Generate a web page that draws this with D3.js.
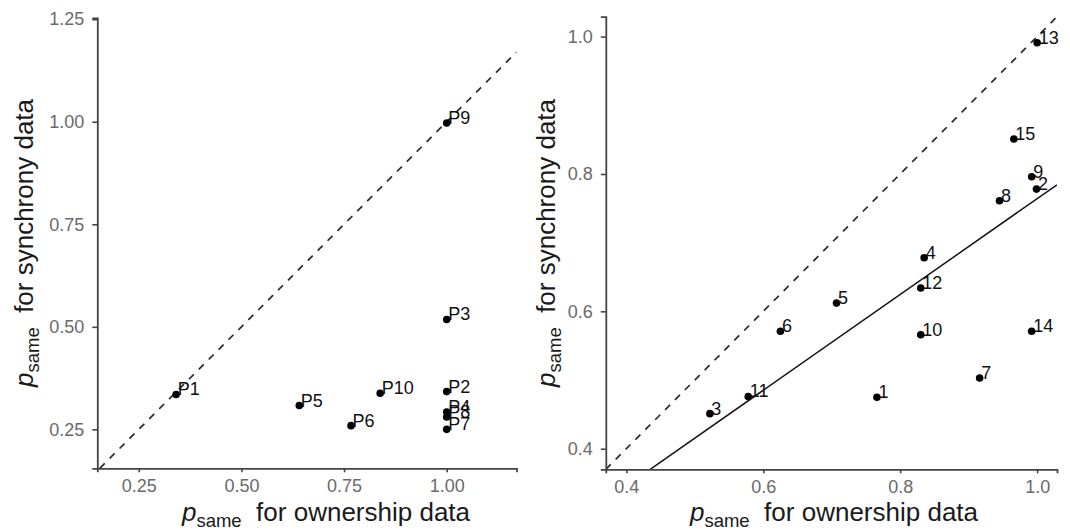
<!DOCTYPE html>
<html>
<head>
<meta charset="utf-8">
<script src="https://cdn.jsdelivr.net/npm/d3@7"></script>
<style>
  body { margin: 0; background: #fff; }
  svg { display: block; font-family: "Liberation Sans", Arial, sans-serif; }
</style>
</head>
<body>
<div id="graph-holder"></div>
<script>
// left panel: participants P1..P10
var leftLabels = ["P1", "P2", "P3", "P4", "P5", "P6", "P7", "P8", "P9", "P10"];
var leftOwnership = [0.341, 1.0, 1.0, 1.0, 0.641, 0.767, 1.0, 1.0, 1.0, 0.838];
var leftSynchrony = [0.335, 0.342, 0.518, 0.292, 0.308, 0.259, 0.25, 0.28, 0.997, 0.338];

// right panel: 15 items
var rightLabels = ["1", "2", "3", "4", "5", "6", "7", "8", "9", "10", "11", "12", "13", "14", "15"];
var rightOwnership = [0.766, 0.999, 0.522, 0.835, 0.707, 0.625, 0.916, 0.945, 0.992, 0.830, 0.578, 0.830, 1.0, 0.992, 0.966];
var rightSynchrony = [0.475, 0.778, 0.451, 0.678, 0.612, 0.571, 0.503, 0.761, 0.796, 0.566, 0.476, 0.634, 0.991, 0.571, 0.851];

// fitted line in right panel
var fitIntercept = 0.0666;
var fitSlope = 0.6975;

// tick values
var leftXTicks = [0.25, 0.5, 0.75, 1.0];
var leftYTicks = [0.25, 0.5, 0.75, 1.0, 1.25];
var rightTicks = [0.4, 0.6, 0.8, 1.0];

var width = 1070, height = 531;

var svg = d3
  .select("#graph-holder")
  .append("svg")
  .attr("width", width)
  .attr("height", height);

function toRows(labels, xs, ys) {
  return labels.map(function(l, i) {
    return { label: l, x: xs[i], y: ys[i] };
  });
}

function drawPanel(opt) {
  var x = d3.scaleLinear().domain(opt.xDomain).range(opt.xRange);
  var y = d3.scaleLinear().domain(opt.yDomain).range(opt.yRange);
  var g = svg.append("g");

  // clip lines to the panel
  g.append("clipPath")
    .attr("id", opt.id + "-clip")
    .append("rect")
    .attr("x", opt.xRange[0])
    .attr("y", opt.yRange[1])
    .attr("width", opt.xRange[1] - opt.xRange[0])
    .attr("height", opt.yRange[0] - opt.yRange[1]);

  var lines = g.append("g").attr("clip-path", "url(#" + opt.id + "-clip)");

  // identity line y = x
  var lo = Math.max(opt.xDomain[0], opt.yDomain[0]);
  var hi = Math.min(opt.xDomain[1], opt.yDomain[1]);
  lines
    .append("line")
    .attr("x1", x(lo))
    .attr("y1", y(lo))
    .attr("x2", x(hi))
    .attr("y2", y(hi))
    .attr("stroke", "#2a2a2a")
    .attr("stroke-width", 1.7)
    .attr("stroke-dasharray", "7,7");

  if (opt.fit) {
    var x0 = opt.xDomain[0], x1 = opt.xDomain[1];
    lines
      .append("line")
      .attr("x1", x(x0))
      .attr("y1", y(opt.fit[0] + opt.fit[1] * x0))
      .attr("x2", x(x1))
      .attr("y2", y(opt.fit[0] + opt.fit[1] * x1))
      .attr("stroke", "#111")
      .attr("stroke-width", 1.5);
  }

  // axes
  var xAxis = g
    .append("g")
    .attr("transform", "translate(0," + opt.yRange[0] + ")")
    .call(
      d3.axisBottom(x)
        .tickValues(opt.xTicks)
        .tickFormat(d3.format(opt.fmt))
        .tickSizeOuter(0)
        .tickSize(4)
        .tickPadding(7)
    );
  var yAxis = g
    .append("g")
    .attr("transform", "translate(" + opt.xRange[0] + ",0)")
    .call(
      d3.axisLeft(y)
        .tickValues(opt.yTicks)
        .tickFormat(d3.format(opt.fmt))
        .tickSizeOuter(0)
        .tickSize(5)
        .tickPadding(8)
    );
  [xAxis, yAxis].forEach(function(a) {
    a.select(".domain").attr("stroke", "#444").attr("stroke-width", 1.8);
    a.selectAll(".tick line").attr("stroke", "#444").attr("stroke-width", 1.6);
    a.selectAll(".tick text")
      .attr("fill", "#6a6a6a")
      .style("font-size", "18px")
      .style("font-family", '"Liberation Sans", Arial, sans-serif');
  });

  // points and labels
  var data = toRows(opt.labels, opt.xs, opt.ys);
  g.selectAll(".pt")
    .data(data)
    .enter()
    .append("circle")
    .attr("cx", function(d) { return x(d.x); })
    .attr("cy", function(d) { return y(d.y); })
    .attr("r", 3.8)
    .attr("fill", "#000");
  g.selectAll(".lbl")
    .data(data)
    .enter()
    .append("text")
    .attr("x", function(d) { return x(d.x) + 1.5; })
    .attr("y", function(d) { return y(d.y) + 1; })
    .text(function(d) { return d.label; })
    .style("font-size", "18px")
    .attr("fill", "#111");

  // axis titles
  var xt = g
    .append("text")
    .attr("x", opt.xTitleX)
    .attr("y", opt.xTitleY)
    .attr("text-anchor", "middle")
    .style("font-size", "26px")
    .attr("fill", "#1a1a1a");
  addTitle(xt, "for ownership data");

  var yt = g
    .append("text")
    .attr("transform", "translate(" + opt.yTitleX + "," + opt.yTitleY + ") rotate(-90)")
    .attr("text-anchor", "middle")
    .style("font-size", "26px")
    .attr("fill", "#1a1a1a");
  addTitle(yt, "for synchrony data");
}

function addTitle(t, rest) {
  t.append("tspan").style("font-style", "italic").text("p");
  t.append("tspan").style("font-size", "18.5px").attr("dy", 6).text("same");
  t.append("tspan").attr("dy", -6).text("\u00a0\u00a0" + rest);
}

drawPanel({
  id: "left",
  labels: leftLabels,
  xs: leftOwnership,
  ys: leftSynchrony,
  xDomain: [0.149, 1.17],
  yDomain: [0.155, 1.253],
  xRange: [97.3, 516.5],
  yRange: [468.3, 18],
  xTicks: leftXTicks,
  yTicks: leftYTicks,
  fmt: ".2f",
  xTitleX: 326,
  xTitleY: 521,
  yTitleX: 33,
  yTitleY: 243
});

drawPanel({
  id: "right",
  labels: rightLabels,
  xs: rightOwnership,
  ys: rightSynchrony,
  xDomain: [0.37, 1.029],
  yDomain: [0.37, 1.029],
  xRange: [605.8, 1057],
  yRange: [469.3, 16.7],
  xTicks: rightTicks,
  yTicks: rightTicks,
  fmt: ".1f",
  fit: [fitIntercept, fitSlope],
  xTitleX: 834,
  xTitleY: 521,
  yTitleX: 555,
  yTitleY: 243
});
</script>
</body>
</html>
